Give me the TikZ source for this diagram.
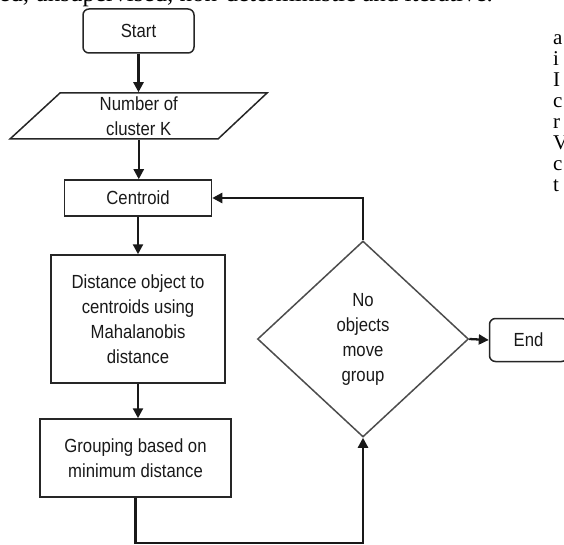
\documentclass[tikz,border=0pt]{standalone}
\usepackage{fontspec}
\setmainfont{Liberation Sans}[FakeStretch=0.88]
\newfontfamily\pagefont{Liberation Serif}
\usetikzlibrary{shapes.geometric,arrows.meta}
\newcommand\flowfont{\fontsize{19}{25}\selectfont}
\begin{document}
\begin{tikzpicture}[x=1pt,y=-1pt,
  box/.style={draw=black!85, line width=1.5pt, align=center, inner sep=0pt, font=\flowfont, text=black!90},
  rbox/.style={box, rounded corners=6pt},
  dbox/.style={box, diamond, draw=black!70},
  arr/.style={draw=black!90, line width=2.3pt, -{Triangle[length=10pt,width=10pt]}},
  pagetext/.style={inner sep=0pt, font=\pagefont\fontsize{21}{24}\selectfont}]
\useasboundingbox (0,0) rectangle (564,545);
\clip (0,0) rectangle (564,545);

% page fragments
\node[inner sep=0pt, font=\pagefont\fontsize{25}{28}\selectfont, anchor=base east] (toptext) at (493,2)
  {ed, unsupervised, non-deterministic and iterative.};
\foreach \l/\y in {a/45,i/66,I/87,c/108,r/129,V/150,c/171,t/192}
  \node[pagetext, anchor=base west] (side\y) at (553,\y) {\l};

% nodes
\node[rbox, minimum width=111pt, minimum height=44pt] (start) at (138.5,31) {Start};
\node[box, draw=none, minimum height=46pt] (num) at (138.75,116) {Number of\\cluster K};
\draw[draw=black!85, line width=1.5pt] (60,93) -- (267,93) -- (218,139) -- (10,139) -- cycle;
\node[box, minimum width=147pt, minimum height=36pt] (cent) at (138,198) {Centroid};
\node[box, minimum width=174pt, minimum height=128pt] (dist) at (138,319)
  {Distance object to\\centroids using\\Mahalanobis\\distance};
\node[box, minimum width=191pt, minimum height=78pt] (grp) at (135.5,458)
  {Grouping based on\\minimum distance};
\node[dbox, minimum width=211pt, minimum height=196pt] (dia) at (363,339)
  {No\\objects\\move\\group};
\node[rbox, minimum width=78pt, minimum height=43pt] (end) at (528.5,340) {End};

% connectors
\draw[arr] (start.south) -- (start.south |- num.north);
\draw[arr] (num.south) -- (num.south |- cent.north);
\draw[arr] (cent.south) -- (cent.south |- dist.north);
\draw[arr] (dist.south) -- (dist.south |- grp.north);
\draw[arr] (grp.south) -- ++(0,45) -| (dia.south);
\draw[arr] (dia.north) |- (cent.east);
\draw[arr] (dia.east) -- (end.west);
\end{tikzpicture}
\end{document}
